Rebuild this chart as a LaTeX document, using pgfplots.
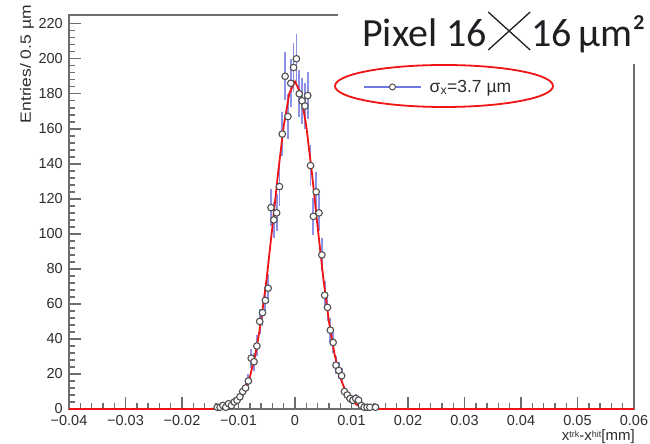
\documentclass[border=0pt]{standalone}
\usepackage{fontspec}
\setmainfont{Liberation Sans}
\newfontfamily\titlefont{Carlito}
\usepackage{pgfplots}
\pgfplotsset{compat=1.18}
\usepackage{pgfplotstable}

\definecolor{axisgray}{RGB}{110,110,110}
\definecolor{labelgray}{RGB}{45,45,45}
\definecolor{errblue}{RGB}{112,118,225}
\definecolor{markgray}{RGB}{80,80,80}
\definecolor{fitred}{RGB}{240,20,20}
\definecolor{titlecol}{RGB}{30,30,35}

% small raised index for the axis title
\newcommand{\axsup}[1]{\raisebox{0.42ex}{\fontsize{9}{9}\selectfont #1}}

% residual histogram: bin centre [mm], entries, statistical error
\pgfplotstableread{
x        y    err
-0.01375 1    1.0
-0.01325 1    1.0
-0.01275 2    1.4
-0.01225 1    1.0
-0.01175 3    1.7
-0.01125 2    1.4
-0.01075 4    2.0
-0.01025 5    2.2
-0.00975 7    2.6
-0.00925 10   3.2
-0.00875 12   3.5
-0.00825 16   4.0
-0.00775 29   5.4
-0.00725 27   5.2
-0.00675 36   6.0
-0.00625 50   7.1
-0.00575 55   7.4
-0.00525 62   7.9
-0.00475 69   8.3
-0.00425 115  10.7
-0.00375 108  10.4
-0.00325 112  10.6
-0.00275 127  11.3
-0.00225 157  12.5
-0.00175 190  13.8
-0.00125 167  12.9
-0.00075 186  13.6
-0.00025 195  14.0
0.00025  200  14.1
0.00075  180  13.4
0.00125  176  13.3
0.00175  173  13.2
0.00225  179  13.4
0.00275  139  11.8
0.00325  110  10.5
0.00375  124  11.1
0.00425  112  10.6
0.00475  88   9.4
0.00525  65   8.1
0.00575  58   7.6
0.00625  45   6.7
0.00675  38   6.2
0.00725  25   5.0
0.00775  22   4.7
0.00825  19   4.4
0.00875  10   3.2
0.00925  8    2.8
0.00975  6    2.4
0.01025  5    2.2
0.01075  6    2.4
0.01125  5    2.2
0.01175  2    1.4
0.01225  1    1.0
0.01275  1    1.0
0.01325  1    1.0
0.01425  1    1.0
}\residuals

% Gaussian fit, sampled every 1 um
\pgfplotstableread{
x       f
-0.040  0
-0.016  0.01
-0.015  0.05
-0.014  0.15
-0.013  0.4
-0.012  1.0
-0.011  2.3
-0.010  4.8
-0.009  9.7
-0.008  18.1
-0.007  31.2
-0.006  50.2
-0.005  75.0
-0.004  104.2
-0.003  134.6
-0.002  161.6
-0.001  180.3
0.000   187.0
0.001   180.3
0.002   161.6
0.003   134.6
0.004   104.2
0.005   75.0
0.006   50.2
0.007   31.2
0.008   18.1
0.009   9.7
0.010   4.8
0.011   2.3
0.012   1.0
0.013   0.4
0.014   0.15
0.015   0.05
0.016   0.01
0.060   0
}\gausfit

\begin{document}
\begin{tikzpicture}
\begin{axis}[
  width=565pt, height=394pt, scale only axis,
  xmin=-0.04, xmax=0.06, ymin=0, ymax=225,
  clip=false,
  axis line style={axisgray, line width=1.3pt},
  tick style={axisgray, line width=1.4pt},
  tick align=inside,
  xtick pos=lower, ytick pos=left,
  major tick length=12pt, minor tick length=6pt,
  scaled x ticks=false, scaled y ticks=false,
  xtick={-0.04,-0.03,-0.02,-0.01,0,0.01,0.02,0.03,0.04,0.05,0.06},
  xticklabels={−0.04,−0.03,−0.02,−0.01,0,0.01,0.02,0.03,0.04,0.05,0.06},
  minor x tick num=4,
  ytick={0,20,40,60,80,100,120,140,160,180,200,220},
  yticklabels={0,20,40,60,80,100,120,140,160,180,200,220},
  minor y tick num=4,
  ticklabel style={font=\fontsize{14.5}{14.5}\selectfont, text=labelgray, inner sep=0pt},
  xticklabel style={yshift=-6pt},
  yticklabel style={xshift=-6pt},
  legend style={at={(0.5204,0.8173)}, anchor=west, draw=none, fill=none,
    inner sep=0pt, font=\fontsize{17.5}{17.5}\selectfont, text=labelgray},
  legend cell align=left,
]
\addplot[draw=none, mark=*, mark size=3.3pt,
  mark options={draw=markgray, fill=white, line width=1.1pt},
  error bars/.cd, y dir=both, y explicit,
  error bar style={errblue, line width=1.8pt, opacity=0.8}, error mark=none,
  /pgfplots/legend image code/.code={
    \draw[errblue, line width=1.5pt] (0pt,0pt) -- (57pt,0pt);
    \draw[markgray, fill=white, line width=1pt] (28.5pt,0pt) circle (3pt);}]
  table[x=x, y=y, y error=err]{\residuals};
\addlegendentry{\hspace{6pt}σ\textsubscript{x}=3.7 µm}
\addplot[fitred, line width=1.8pt, no markers, forget plot]
  table[x=x, y=f]{\gausfit};
\end{axis}

% axis titles
\node[rotate=90, yscale=0.85, anchor=east, inner sep=0pt, font=\fontsize{17.5}{17.5}\selectfont, text=labelgray]
  at (-42pt,404pt) {Entries/ 0.5 µm};
\node[anchor=base east, inner sep=0pt, font=\fontsize{15}{15}\selectfont, text=labelgray]
  at (566pt,-31.5pt) {x\axsup{trk}-x\axsup{hit}[mm]};

% highlight around the legend entry
\draw[fitred, line width=1.8pt] (375pt,323pt) ellipse [x radius=109pt, y radius=21pt];

% pixel size banner
\fill[white] (269pt,345pt) rectangle (582pt,411pt);
\node[anchor=base west, inner sep=0pt, font=\titlefont\fontsize{40}{40}\selectfont, text=titlecol]
  (t1) at (293pt,362pt) {Pixel 16};
\draw[titlecol, line width=1.3pt]
  ([xshift=1pt,yshift=-3pt]t1.base east) -- ++(42pt,38pt)
  ([xshift=1pt,yshift=35pt]t1.base east) -- ++(42pt,-38pt);
\node[anchor=base west, inner sep=0pt, font=\titlefont\fontsize{40}{40}\selectfont, text=titlecol]
  at ([xshift=44pt]t1.base east) {16\,µm²};

\pgfresetboundingbox
\path[use as bounding box] (-69pt,-35pt) rectangle (581pt,409pt);
\end{tikzpicture}
\end{document}
